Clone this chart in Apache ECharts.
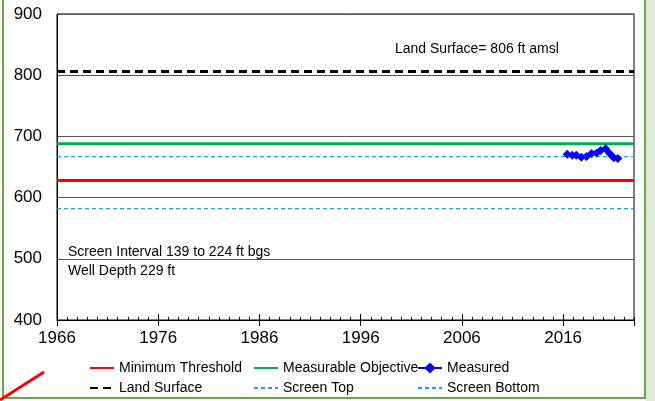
<!DOCTYPE html>
<html>
<head>
<meta charset="utf-8">
<script src="https://cdn.jsdelivr.net/npm/echarts@6/dist/echarts.min.js"></script>
<style>
  html, body { margin: 0; padding: 0; background: #fff; }
  #chart { width: 655px; height: 401px; }
</style>
</head>
<body>
<div id="chart"></div>
<script>
// axis range
const startYear = 1966;
const endYear = 2023;
const yTicks = [400, 500, 600, 700, 800, 900];

// reference levels (ft amsl)
const landSurface = 806;
const measurableObjective = 688;
const minimumThreshold = 628;
const screenTop = 667;
const screenBottom = 582;

// measured groundwater elevations
const measuredYears = [2016.4, 2016.9, 2017.3, 2017.8, 2018.3, 2018.8, 2019.3, 2019.7, 2020.2, 2020.6, 2021.0, 2021.4];
const measuredValues = [671, 669, 669, 666, 667, 672, 673, 677, 680, 672, 665, 664];

const font = 'Liberation Sans, Arial, sans-serif';
const span = endYear - startYear;

// years are stored as offsets from startYear so ticks land on 1966, 1976, ...
const flat = (v) => [[0, v], [span, v]];
const measured = measuredYears.map((y, i) => [y - startYear, measuredValues[i]]);

const chart = echarts.init(document.getElementById('chart'));

const levelSeries = (name, value, color, width, type, z) => ({
  name, type: 'line', data: flat(value), symbol: 'none', silent: true, z,
  lineStyle: { color, width, type }, itemStyle: { color }
});

// hide the round marker ECharts puts on line legend icons when symbol is none
const lineOnly = (name) => ({ name, itemStyle: { opacity: 0 } });

const legendCol = (left, items) => ({
  orient: 'vertical', left, top: 361, padding: 0, itemGap: 6, itemWidth: 24, itemHeight: 14,
  selectedMode: false, data: items,
  textStyle: { fontFamily: font, fontSize: 14, color: '#000' }
});

const baseX = {
  type: 'value', min: 0, max: span, position: 'bottom',
  splitLine: { show: false },
  axisLine: { show: false },
  axisLabel: { show: false }
};

chart.setOption({
  animation: false,
  backgroundColor: '#fff',
  grid: { left: 57, right: 21, top: 14, bottom: 81, show: true, borderColor: '#000', borderWidth: 1 },
  xAxis: [
    {
      ...baseX, interval: 10,
      axisLine: { show: true, lineStyle: { color: '#000', width: 1 } },
      axisTick: { show: true, inside: true, length: 6, lineStyle: { color: '#000' } },
      axisLabel: {
        show: true, margin: 10, fontFamily: font, fontSize: 17, color: '#000',
        showMaxLabel: false, formatter: (v) => String(v + startYear)
      }
    },
    { ...baseX, interval: 10, axisTick: { show: true, inside: false, length: 6, lineStyle: { color: '#000' } } },
    { ...baseX, interval: 1, axisTick: { show: true, inside: true, length: 3, lineStyle: { color: '#000' } } }
  ],
  yAxis: {
    type: 'value', min: yTicks[0], max: yTicks[yTicks.length - 1], interval: 100,
    axisLine: { show: true, lineStyle: { color: '#000' } },
    axisTick: { show: false },
    axisLabel: { margin: 15, fontFamily: font, fontSize: 17, color: '#000' },
    splitLine: { show: true, lineStyle: { color: '#555', width: 1 } }
  },
  legend: [
    legendCol(89, [lineOnly('Minimum Threshold'), lineOnly('Land Surface')]),
    legendCol(253, [lineOnly('Measurable Objective'), lineOnly('Screen Top')]),
    legendCol(417, ['Measured', lineOnly('Screen Bottom')])
  ],
  series: [
    levelSeries('Minimum Threshold', minimumThreshold, '#ff0000', 3, 'solid', 3),
    levelSeries('Measurable Objective', measurableObjective, '#00b050', 3, 'solid', 3),
    {
      name: 'Measured', type: 'line', data: measured, z: 5,
      symbol: 'diamond', symbolSize: 9,
      lineStyle: { color: '#0000ff', width: 3.5 }, itemStyle: { color: '#0000ff' }
    },
    levelSeries('Land Surface', landSurface, '#000', 3, [8, 5], 4),
    levelSeries('Screen Top', screenTop, '#1ea0e6', 1.2, [4, 3], 2),
    levelSeries('Screen Bottom', screenBottom, '#1ea0e6', 1.2, [4, 3], 2)
  ],
  graphic: [
    { type: 'text', left: 395, top: 42, style: { text: 'Land Surface= 806 ft amsl', font: '14px ' + font, fill: '#000' } },
    { type: 'text', left: 68, top: 245, style: { text: 'Screen Interval 139 to 224 ft bgs', font: '14px ' + font, fill: '#000' } },
    { type: 'text', left: 68, top: 264, style: { text: 'Well Depth 229 ft', font: '14px ' + font, fill: '#000' } },
    // page frame around the chart
    { type: 'rect', shape: { x: 646, y: 0, width: 9, height: 401 }, style: { fill: '#dfe9d6' }, silent: true },
    { type: 'line', shape: { x1: 645, y1: 0, x2: 645, y2: 399 }, style: { stroke: '#6aa84f', lineWidth: 2 }, silent: true },
    { type: 'line', shape: { x1: 3, y1: 0, x2: 3, y2: 399 }, style: { stroke: '#6aa84f', lineWidth: 2 }, silent: true },
    { type: 'line', shape: { x1: 3, y1: 398, x2: 645, y2: 398 }, style: { stroke: '#6aa84f', lineWidth: 2 }, silent: true },
    { type: 'line', shape: { x1: 0, y1: 400, x2: 44, y2: 372 }, style: { stroke: '#ff0000', lineWidth: 3 }, silent: true }
  ]
});
</script>
</body>
</html>
